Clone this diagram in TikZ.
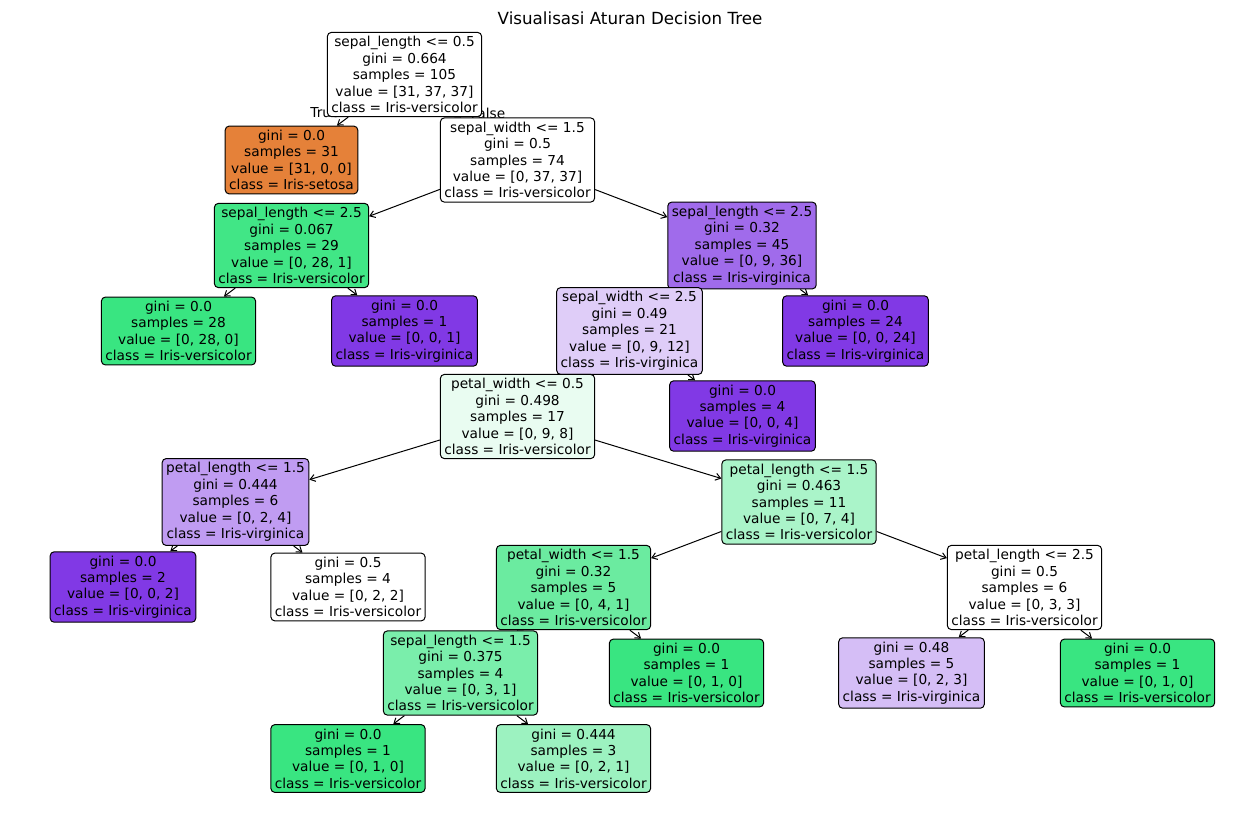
\documentclass[tikz,border=0pt]{standalone}
\usepackage{fontspec}
\setmainfont{DejaVu Sans}
\usetikzlibrary{arrows.meta,backgrounds}
\definecolor{setosa}{HTML}{E58139}
\definecolor{versicolor}{HTML}{39E581}
\definecolor{virginica}{HTML}{8139E5}

\begin{document}
\begin{tikzpicture}[x=1pt,y=-1pt,%
	tree node/.style={
		rectangle,
		draw,
		rounded corners=4pt,
		line width=1pt,
		fill=white,
		inner sep=4pt,
		align=center,
		font=\fontsize{13.7}{16.4}\selectfont
	},
	edge label/.style={
		inner sep=0pt,
		font=\fontsize{13.7}{16.4}\selectfont
	},
]
	\useasboundingbox (0,0) rectangle (1260,812);
	\node (title) at (630,18) {\fontsize{16.7}{20}\selectfont Visualisasi Aturan Decision Tree};
	% branch labels sit under the boxes
	\node[edge label] (true) at (325,113) {True};
	\node[edge label] (false) at (488,113) {False};
	% depth 0-2
	\node[tree node] (1) at (404.5,74.5) {sepal\_length <= 0.5\\gini = 0.664\\samples = 105\\value = [31, 37, 37]\\class = Iris-versicolor};
	\node[tree node,fill=setosa] (2) at (291.5,160) {gini = 0.0\\samples = 31\\value = [31, 0, 0]\\class = Iris-setosa};
	\node[tree node] (3) at (517.5,160) {sepal\_width <= 1.5\\gini = 0.5\\samples = 74\\value = [0, 37, 37]\\class = Iris-versicolor};
	\node[tree node,fill=versicolor!96!white] (4) at (291.5,245.5) {sepal\_length <= 2.5\\gini = 0.067\\samples = 29\\value = [0, 28, 1]\\class = Iris-versicolor};
	\node[tree node,fill=virginica!75!white] (5) at (742,245.5) {sepal\_length <= 2.5\\gini = 0.32\\samples = 45\\value = [0, 9, 36]\\class = Iris-virginica};
	% depth 3-4
	\node[tree node,fill=versicolor] (6) at (178.5,331) {gini = 0.0\\samples = 28\\value = [0, 28, 0]\\class = Iris-versicolor};
	\node[tree node,fill=virginica] (7) at (404.5,331) {gini = 0.0\\samples = 1\\value = [0, 0, 1]\\class = Iris-virginica};
	\node[tree node,fill=virginica!25!white] (8) at (629.5,331) {sepal\_width <= 2.5\\gini = 0.49\\samples = 21\\value = [0, 9, 12]\\class = Iris-virginica};
	\node[tree node,fill=virginica] (9) at (855.5,331) {gini = 0.0\\samples = 24\\value = [0, 0, 24]\\class = Iris-virginica};
	\node[tree node,fill=versicolor!11!white] (10) at (517.5,416.5) {petal\_width <= 0.5\\gini = 0.498\\samples = 17\\value = [0, 9, 8]\\class = Iris-versicolor};
	\node[tree node,fill=virginica] (11) at (742.5,416) {gini = 0.0\\samples = 4\\value = [0, 0, 4]\\class = Iris-virginica};
	% depth 5-6
	\node[tree node,fill=virginica!50!white] (12) at (235.5,502) {petal\_length <= 1.5\\gini = 0.444\\samples = 6\\value = [0, 2, 4]\\class = Iris-virginica};
	\node[tree node,fill=versicolor!43!white] (13) at (799,502) {petal\_length <= 1.5\\gini = 0.463\\samples = 11\\value = [0, 7, 4]\\class = Iris-versicolor};
	\node[tree node,fill=virginica] (14) at (123,587) {gini = 0.0\\samples = 2\\value = [0, 0, 2]\\class = Iris-virginica};
	\node[tree node] (15) at (348,587) {gini = 0.5\\samples = 4\\value = [0, 2, 2]\\class = Iris-versicolor};
	\node[tree node,fill=versicolor!75!white] (16) at (573.5,587.5) {petal\_width <= 1.5\\gini = 0.32\\samples = 5\\value = [0, 4, 1]\\class = Iris-versicolor};
	\node[tree node] (17) at (1024.5,587.5) {petal\_length <= 2.5\\gini = 0.5\\samples = 6\\value = [0, 3, 3]\\class = Iris-versicolor};
	% depth 7-8
	\node[tree node,fill=versicolor!67!white] (18) at (460.5,673) {sepal\_length <= 1.5\\gini = 0.375\\samples = 4\\value = [0, 3, 1]\\class = Iris-versicolor};
	\node[tree node,fill=versicolor] (19) at (686.5,673) {gini = 0.0\\samples = 1\\value = [0, 1, 0]\\class = Iris-versicolor};
	\node[tree node,fill=virginica!33!white] (20) at (911.5,673) {gini = 0.48\\samples = 5\\value = [0, 2, 3]\\class = Iris-virginica};
	\node[tree node,fill=versicolor] (21) at (1137.5,673) {gini = 0.0\\samples = 1\\value = [0, 1, 0]\\class = Iris-versicolor};
	\node[tree node,fill=versicolor] (22) at (348,758.5) {gini = 0.0\\samples = 1\\value = [0, 1, 0]\\class = Iris-versicolor};
	\node[tree node,fill=versicolor!50!white] (23) at (573.5,758.5) {gini = 0.444\\samples = 3\\value = [0, 2, 1]\\class = Iris-versicolor};
	% arrows go behind the boxes
	\begin{pgfonlayer}{background}
	\path[draw,line width=1pt,-{Straight Barb[length=5pt,width=7pt]}]
	(1) edge (2)
	(1) edge (3)
	(3) edge (4)
	(3) edge (5)
	(4) edge (6)
	(4) edge (7)
	(5) edge (8)
	(5) edge (9)
	(8) edge (10)
	(8) edge (11)
	(10) edge (12)
	(10) edge (13)
	(12) edge (14)
	(12) edge (15)
	(13) edge (16)
	(13) edge (17)
	(16) edge (18)
	(16) edge (19)
	(17) edge (20)
	(17) edge (21)
	(18) edge (22)
	(18) edge (23);
	\end{pgfonlayer}
\end{tikzpicture}
\end{document}
